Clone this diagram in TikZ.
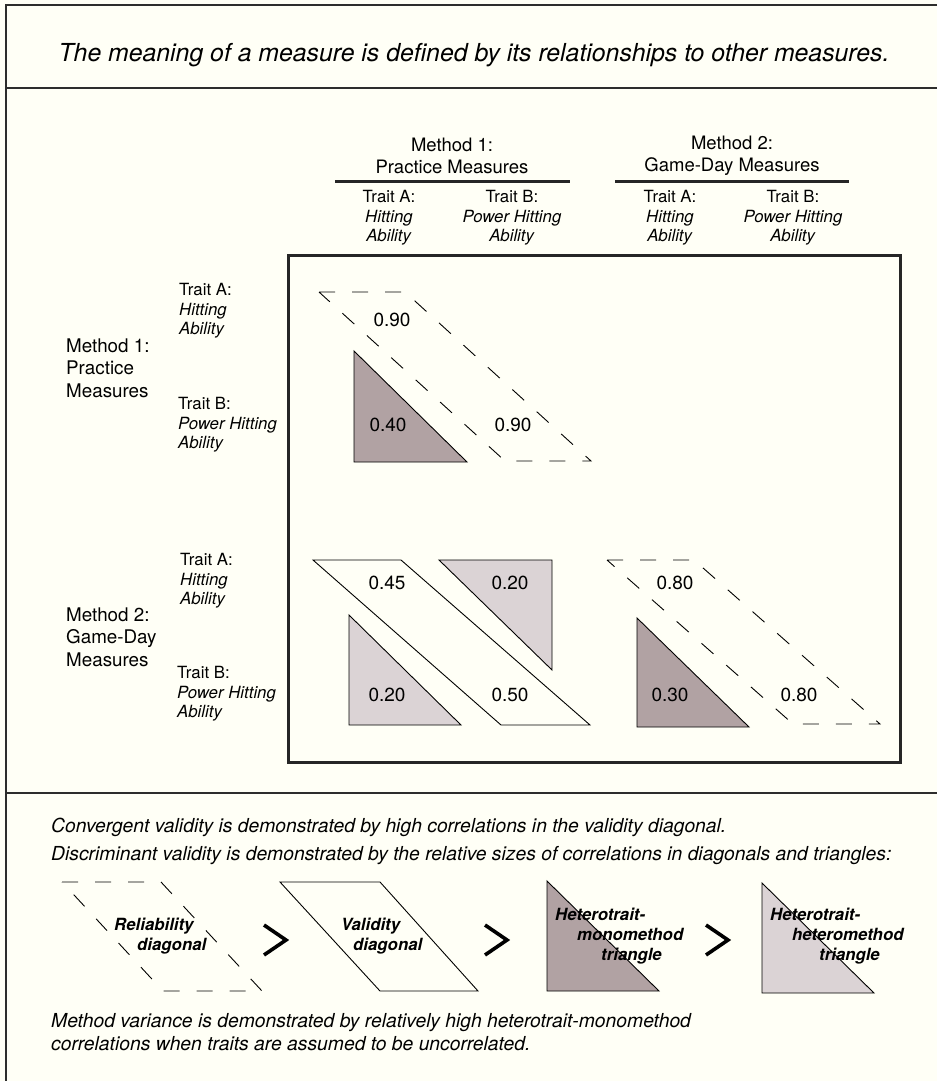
\documentclass[tikz,border=0pt]{standalone}
\usepackage{fontspec}
\setmainfont{TeX Gyre Heros}
\usepackage{xcolor}
\usepackage{tikz}
\usetikzlibrary{positioning}
\definecolor{paper}{RGB}{255,255,246}
\definecolor{monofill}{RGB}{177,162,163}
\definecolor{heterofill}{RGB}{219,211,213}
\definecolor{inkgray}{RGB}{45,45,45}

\begin{document}
\begin{tikzpicture}[x=1pt, y=-1pt,
  heading/.style={font=\fontsize{24.8}{29}\selectfont\itshape, inner sep=0pt},
  method/.style={font=\fontsize{18.5}{22}\selectfont, align=center, inner sep=0pt},
  trait/.style={font=\fontsize{16.8}{19.6}\selectfont, align=center, inner sep=0pt},
  rowtrait/.style={trait, align=left, anchor=west},
  rowmethod/.style={font=\fontsize{18.8}{22.5}\selectfont, align=left, anchor=west, inner sep=0pt},
  corr/.style={font=\fontsize{19}{22}\selectfont, inner sep=0pt},
  note/.style={font=\fontsize{19.3}{23}\selectfont\itshape, anchor=west, inner sep=0pt},
  legendtext/.style={font=\fontsize{16.8}{20}\selectfont\bfseries\itshape, align=left, anchor=west, inner sep=0pt},
  solidbox/.style={draw=black, line width=0.9pt, line join=miter},
  dashbox/.style={draw=black, line width=0.9pt, dash pattern=on 16pt off 17pt},
  framebox/.style={draw=black!85, line width=3pt},
  rule/.style={draw=black!85, line width=3pt},
  panel/.style={draw=inkgray, line width=2pt},
  chevron/.style={draw=black, line width=3.6pt, line join=miter}
]
  % Page and panels
  \useasboundingbox (0,0) rectangle (937,1081);
  \fill[paper] (0,0) rectangle (937,1081);
  \draw[panel] (937,5) -- (6,5) -- (6,1081);
  \draw[panel] (6,88) -- (937,88);
  \draw[panel] (6,793) -- (937,793);

  % Title
  \node[heading] (title) at (474,55)
    {The meaning of a measure is defined by its relationships to other measures.};

  % Column headers
  \node[method] (colM1) at (452,156) {Method 1:\\Practice Measures};
  \node[method] (colM2) at (732,156) {Method 2:\\Game-Day Measures};
  \draw[rule] (335,181) -- (570,181);
  \draw[rule] (615,181) -- (849,181);
  \node[trait] (colA1) at (389,218) {Trait A:\\\textit{Hitting}\\\textit{Ability}};
  \node[trait] (colB1) at (512,218) {Trait B:\\\textit{Power Hitting}\\\textit{Ability}};
  \node[trait] (colA2) at (670,218) {Trait A:\\\textit{Hitting}\\\textit{Ability}};
  \node[trait] (colB2) at (793,218) {Trait B:\\\textit{Power Hitting}\\\textit{Ability}};

  % Row headers
  \node[rowtrait] (rowA1) at (179,311) {Trait A:\\\textit{Hitting}\\\textit{Ability}};
  \node[rowmethod] (rowM1) at (66,368) {Method 1:\\Practice\\Measures};
  \node[rowtrait] (rowB1) at (178,425) {Trait B:\\\textit{Power Hitting}\\\textit{Ability}};
  \node[rowtrait] (rowA2) at (180,581) {Trait A:\\\textit{Hitting}\\\textit{Ability}};
  \node[rowmethod] (rowM2) at (66,637) {Method 2:\\Game-Day\\Measures};
  \node[rowtrait] (rowB2) at (177,694) {Trait B:\\\textit{Power Hitting}\\\textit{Ability}};

  % Matrix frame
  \draw[framebox] (288,255) rectangle (900,762);

  % Method 1 block
  \draw[dashbox] (319,292) -- (405,292) -- (591,461) -- (505,461) -- cycle;
  \draw[solidbox, fill=monofill] (354,351) -- (354,462) -- (467,462) -- cycle;

  % Method 2 x Method 1 block
  \draw[solidbox, fill=paper] (313,560) -- (401,560) -- (590,725) -- (501,725) -- cycle;
  \draw[solidbox, fill=heterofill] (349,615) -- (349,725) -- (461,725) -- cycle;
  \draw[solidbox, fill=heterofill] (439,560) -- (552,560) -- (552,670) -- cycle;

  % Method 2 block
  \draw[dashbox] (607,560) -- (694,560) -- (880,724) -- (793,724) -- cycle;
  \draw[solidbox, fill=monofill] (637,618) -- (637,727) -- (749,727) -- cycle;

  % Correlations
  \node[corr] (r11) at (392,320) {0.90};
  \node[corr] (r21) at (388,425) {0.40};
  \node[corr] (r22) at (513,425) {0.90};
  \node[corr] (r31) at (387,583) {0.45};
  \node[corr] (r32) at (510,583) {0.20};
  \node[corr] (r33) at (675,583) {0.80};
  \node[corr] (r41) at (387,695) {0.20};
  \node[corr] (r42) at (510,695) {0.50};
  \node[corr] (r43) at (670,695) {0.30};
  \node[corr] (r44) at (799,695) {0.80};

  % Notes
  \node[note] (convergent) at (51,827)
    {Convergent validity is demonstrated by high correlations in the validity diagonal.};
  \node[note] (discriminant) at (51,856)
    {Discriminant validity is demonstrated by the relative sizes of correlations in diagonals and triangles:};
  \node[note, align=left] (variance) at (51,1032)
    {Method variance is demonstrated by relatively high heterotrait-monomethod\\correlations when traits are assumed to be uncorrelated.};

  % Legend shapes
  \draw[dashbox] (62,882) -- (161,882) -- (262,991) -- (163,991) -- cycle;
  \draw[solidbox, fill=paper] (280,882) -- (380,882) -- (478,991) -- (380,991) -- cycle;
  \draw[solidbox, fill=monofill] (547,881) -- (547,991) -- (659,991) -- cycle;
  \draw[solidbox, fill=heterofill] (762,883) -- (762,993) -- (874,993) -- cycle;
  \node[legendtext] (keyRel) at (114,936) {Reliability\\\hspace*{23pt}diagonal};
  \node[legendtext] (keyVal) at (341,936) {Validity\\\hspace*{12pt}diagonal};
  \node[legendtext] (keyMono) at (555,936)
    {Heterotrait-\\\hspace*{22pt}monomethod\\\hspace*{46pt}triangle};
  \node[legendtext] (keyHetero) at (770,936)
    {Heterotrait-\\\hspace*{22pt}heteromethod\\\hspace*{49pt}triangle};

  % Greater-than marks
  \draw[chevron] (264,925) -- (286,940) -- (264,955);
  \draw[chevron] (485,925) -- (507,940) -- (485,955);
  \draw[chevron] (706,925) -- (728,940) -- (706,955);
\end{tikzpicture}
\end{document}
